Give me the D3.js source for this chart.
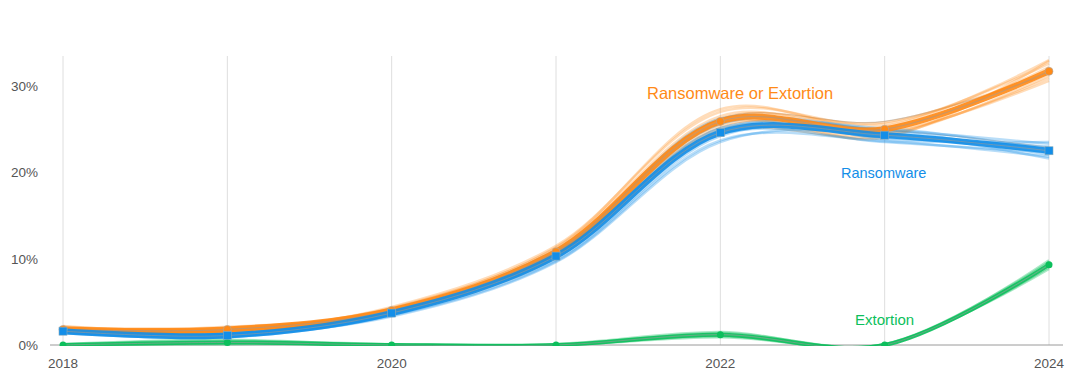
<!DOCTYPE html>
<html>
<head>
<meta charset="utf-8">
<script src="https://cdn.jsdelivr.net/npm/d3@7"></script>
<style>
  body { margin: 0; background: #fff; }
  svg { display: block; font-family: "Liberation Sans", Arial, sans-serif; }
</style>
</head>
<body>
<svg id="chart"></svg>
<script>
// years on the x axis
var years = [2018, 2019, 2020, 2021, 2022, 2023, 2024];
var yTicks = [0, 10, 20, 30];
var xLabelYears = [2018, 2020, 2022, 2024];

// main estimates (% of incidents)
var ransomOrExtortion = [1.8, 1.8, 4.0, 10.8, 25.9, 25.0, 31.7];
var ransomware = [1.6, 1.1, 3.7, 10.3, 24.6, 24.3, 22.5];
var extortion = [0, 0.3, 0, 0, 1.2, 0, 9.3];

var ransomOrExtortionDraws = [
  [2.2, 1.6, 4.4, 11.5, 27.0, 25.6, 32.6],
  [1.5, 2.1, 3.7, 10.3, 25.0, 24.4, 30.9],
  [1.9, 1.7, 4.3, 11.2, 26.5, 25.3, 33.0],
  [1.7, 2.0, 3.9, 10.5, 25.4, 24.6, 30.6],
  [2.1, 1.8, 4.2, 11.3, 27.3, 25.1, 32.2],
  [1.6, 1.6, 3.6, 10.1, 24.6, 24.2, 31.2],
  [2.0, 1.9, 4.1, 10.9, 26.2, 25.8, 31.6],
  [1.8, 1.5, 3.8, 10.6, 25.7, 24.0, 32.9]
];
var ransomwareDraws = [
  [1.9, 1.3, 4.0, 11.0, 25.6, 24.9, 23.3],
  [1.4, 0.9, 3.4, 9.7, 23.7, 23.6, 21.8],
  [1.7, 1.2, 3.6, 10.6, 25.1, 24.0, 23.0],
  [1.5, 0.9, 3.9, 9.9, 24.2, 24.8, 22.0],
  [1.6, 1.3, 3.9, 10.7, 26.2, 23.8, 23.5],
  [1.5, 1.1, 3.3, 9.6, 23.5, 24.5, 21.6],
  [1.8, 1.0, 3.7, 10.2, 24.9, 25.1, 22.6],
  [1.4, 1.2, 3.5, 10.4, 24.4, 23.5, 22.3]
];
var extortionDraws = [
  [0.1, 0.5, 0.1, 0, 1.4, 0.1, 9.6],
  [0, 0.2, 0, 0, 1.0, 0, 9.0],
  [0.1, 0.6, 0, 0.1, 1.5, 0, 9.8],
  [0, 0.1, 0.1, 0, 0.9, 0.1, 8.8]
];
// grey draws mixed in with the two upper series
var greyDraws = [
  [1.9, 1.6, 4.0, 10.8, 26.2, 25.9, 31.4],
  [1.7, 1.4, 3.8, 10.3, 25.2, 24.9, 22.9]
];

var width = 1080, height = 387;
var orange = "#ff8a17", blue = "#138ee8", green = "#0cbf5c";

var svg = d3.select("#chart").attr("width", width).attr("height", height);

var x = d3.scaleLinear().domain([2018, 2024]).range([63, 1049]);
var y = d3.scaleLinear().domain([0, 30]).range([345, 86]);

svg.append("defs").append("clipPath").attr("id", "plot")
  .append("rect").attr("x", 40).attr("y", 40).attr("width", 1040).attr("height", 306);

// vertical gridlines
svg.append("g").selectAll("line")
  .data(years)
  .enter().append("line")
    .attr("x1", d => x(d)).attr("x2", d => x(d))
    .attr("y1", 56).attr("y2", 345)
    .style("stroke", "#dedede")
    .style("stroke-width", 1);

// baseline
svg.append("line")
  .attr("x1", 50).attr("x2", 1063)
  .attr("y1", y(0)).attr("y2", y(0))
  .style("stroke", "#9a9a9a")
  .style("stroke-width", 1);

// y labels
svg.append("g").selectAll("text")
  .data(yTicks)
  .enter().append("text")
    .attr("x", 38).attr("y", d => y(d) + 5)
    .attr("text-anchor", "end")
    .style("font-size", "13.5px")
    .style("fill", "#555")
    .text(d => d + "%");

// x labels
svg.append("g").selectAll("text")
  .data(xLabelYears)
  .enter().append("text")
    .attr("x", d => x(d)).attr("y", 368)
    .attr("text-anchor", "middle")
    .style("font-size", "13.5px")
    .style("fill", "#555")
    .text(d => d);

var line = d3.line()
  .x((d, i) => x(years[i]))
  .y(d => y(d))
  .curve(d3.curveCatmullRom.alpha(0.5));

var g = svg.append("g").attr("clip-path", "url(#plot)");

function draws(data, color, w, op) {
  g.append("g").selectAll("path")
    .data(data)
    .enter().append("path")
      .attr("d", line)
      .style("fill", "none")
      .style("stroke", color)
      .style("stroke-width", w)
      .style("stroke-opacity", op);
}
draws(extortionDraws, green, 2.5, 0.35);
draws(greyDraws, "#b8b8b8", 1.2, 0.7);
draws(ransomOrExtortionDraws, orange, 2.5, 0.3);
draws(ransomwareDraws, blue, 2.5, 0.3);

function mainLine(data, color, w) {
  g.append("path")
    .attr("d", line(data))
    .style("fill", "none")
    .style("stroke", color)
    .style("stroke-width", w)
    .style("stroke-opacity", 0.9);
  g.append("path")
    .attr("d", line(data))
    .style("fill", "none")
    .style("stroke", "#999")
    .style("stroke-width", 1)
    .style("stroke-opacity", 0.6);
}
mainLine(extortion, green, 4);
mainLine(ransomOrExtortion, orange, 6);
mainLine(ransomware, blue, 6);

// markers
g.append("g").selectAll("circle")
  .data(extortion)
  .enter().append("circle")
    .attr("cx", (d, i) => x(years[i])).attr("cy", d => y(d))
    .attr("r", 3.5)
    .style("fill", green);

g.append("g").selectAll("circle")
  .data(ransomOrExtortion)
  .enter().append("circle")
    .attr("cx", (d, i) => x(years[i])).attr("cy", d => y(d))
    .attr("r", 4)
    .style("fill", orange)
    .style("stroke", "#aaa").style("stroke-width", 0.6);

g.append("g").selectAll("rect")
  .data(ransomware)
  .enter().append("rect")
    .attr("x", (d, i) => x(years[i]) - 4).attr("y", d => y(d) - 4)
    .attr("width", 8).attr("height", 8)
    .style("fill", blue)
    .style("stroke", "#8ab").style("stroke-width", 0.6);

// series labels
svg.append("text").attr("x", 647).attr("y", 99)
  .style("font-size", "16.5px").style("fill", orange)
  .text("Ransomware or Extortion");
svg.append("text").attr("x", 841).attr("y", 178)
  .style("font-size", "14.5px").style("fill", blue)
  .text("Ransomware");
svg.append("text").attr("x", 855).attr("y", 325)
  .style("font-size", "15px").style("fill", green)
  .text("Extortion");
</script>
</body>
</html>
